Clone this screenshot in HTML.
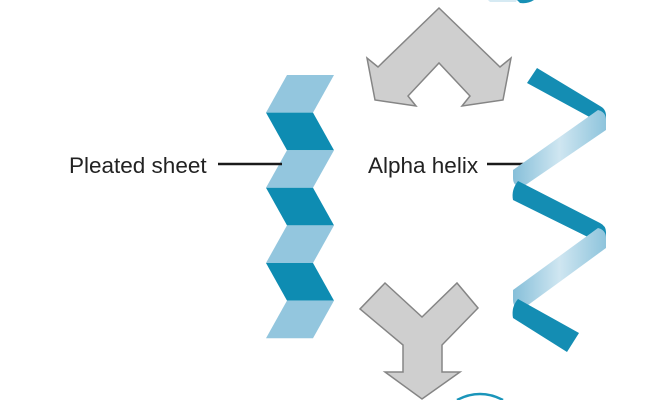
<!DOCTYPE html>
<html>
<head>
<meta charset="utf-8">
<style>
  html, body { margin: 0; padding: 0; background: #ffffff; }
  body { width: 668px; height: 400px; overflow: hidden; }
  svg { display: block; }
  text { font-family: "Liberation Sans", Arial, sans-serif; fill: #222222; }
</style>
</head>
<body>
<svg width="668" height="400" viewBox="0 0 668 400" xmlns="http://www.w3.org/2000/svg">
  <defs>
    <linearGradient id="lg" gradientUnits="userSpaceOnUse" x1="513" y1="0" x2="606" y2="0">
      <stop offset="0" stop-color="#86bfd9"/>
      <stop offset="0.5" stop-color="#cfe6f1"/>
      <stop offset="1" stop-color="#8ec4dc"/>
    </linearGradient>
  </defs>

  <!-- partial shapes at top/bottom edges -->
  <path d="M488,0 L517,0 L516,2 L490,2 Z" fill="#d6eaf3"/>
  <path d="M517,0 L534,0 Q528,4 520,3 Z" fill="#1790b5"/>
  <path d="M457,400 Q480,388 503,400" fill="none" stroke="#1a95ba" stroke-width="2.5"/>

  <!-- Pleated sheet -->
  <g>
    <polygon points="287,75 334,75 313,112.6 266,112.6" fill="#93c6de"/>
    <polygon points="266,112.6 313,112.6 334,150.2 287,150.2" fill="#0e8cb2"/>
    <polygon points="287,150.2 334,150.2 313,187.8 266,187.8" fill="#93c6de"/>
    <polygon points="266,187.8 313,187.8 334,225.4 287,225.4" fill="#0e8cb2"/>
    <polygon points="287,225.4 334,225.4 313,263 266,263" fill="#93c6de"/>
    <polygon points="266,263 313,263 334,300.6 287,300.6" fill="#0e8cb2"/>
    <polygon points="287,300.6 334,300.6 313,338.2 266,338.2" fill="#93c6de"/>
  </g>

  <!-- Labels -->
  <text x="69" y="173" font-size="22.5">Pleated sheet</text>
  <line x1="218" y1="164" x2="282" y2="164" stroke="#1a1a1a" stroke-width="2.5"/>
  <text x="368" y="173" font-size="22.5">Alpha helix</text>
  <line x1="487" y1="164" x2="529" y2="164" stroke="#1a1a1a" stroke-width="2.5"/>

  <!-- Top arrow (chevron with two arrowheads) -->
  <polygon points="439,8 500,67 511,58 503,100 462,106 470,96 439,63 408,96 416,106 375,100 367,58 378,67"
           fill="#cfcfcf" stroke="#858585" stroke-width="1.5" stroke-linejoin="miter"/>

  <!-- Bottom arrow (Y shape) -->
  <polygon points="385,283 422,317 457,283 478,308 442,345 442,372 460,372 422,399 385,372 403,372 403,345 360,309"
           fill="#cfcfcf" stroke="#858585" stroke-width="1.5"/>

  <!-- Alpha helix ribbon -->
  <path d="M537,68 L600,106 Q606,109 606,116 L606,126 L527,83 Z" fill="#148db3"/>
  <path d="M598,110 Q606,112 606,120 L606,130 L524,186 Q513,188 513,178 L513,170 Z" fill="url(#lg)"/>
  <path d="M518,181 L600,223 Q606,226 606,232 L606,246 L513,200 Q511,190 518,181 Z" fill="#148db3"/>
  <path d="M598,228 Q606,230 606,238 L606,248 L524,308 Q513,310 513,300 L513,290 Z" fill="url(#lg)"/>
  <path d="M518,299 L579,333 L567,352 L513,318 Q511,307 518,299 Z" fill="#148db3"/>
</svg>
</body>
</html>
